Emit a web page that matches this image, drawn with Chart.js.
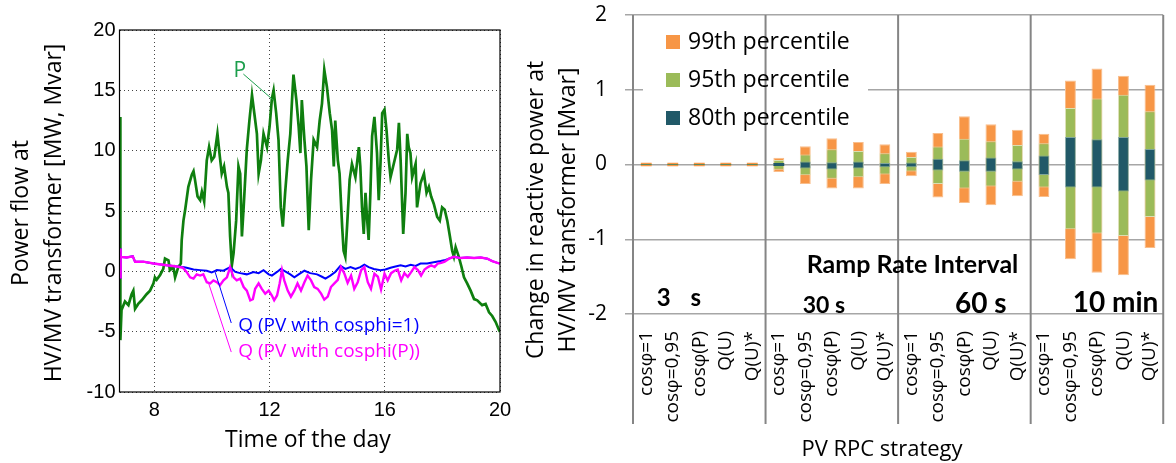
<!DOCTYPE html>
<html><head><meta charset="utf-8">
<script src="https://cdn.jsdelivr.net/npm/chart.js@4.4.1/dist/chart.umd.min.js"></script>
<style>
html,body{margin:0;padding:0;background:#fff;overflow:hidden;width:1176px;height:463px;position:relative;}
#l{position:absolute;left:0;top:0;width:520px;height:463px;}
#r{position:absolute;left:520px;top:0;width:670px;height:463px;}
canvas{display:block;}
</style></head><body>
<div id="l"><canvas id="c1" width="520" height="463"></canvas></div>
<div id="r"><canvas id="c2" width="670" height="463"></canvas></div>
<script>
// ---------- Left panel data: power flow over the day ----------
const pTime = [
 6.81,6.82,6.86,6.98,7.10,7.21,7.27,7.33,7.44,7.56,
 7.73,7.85,7.97,8.02,8.08,8.20,8.31,8.37,8.49,8.54,
 8.66,8.72,8.83,8.92,8.95,9.01,9.07,9.18,9.30,9.36,
 9.41,9.50,9.59,9.65,9.73,9.82,9.90,9.99,10.08,10.19,
 10.26,10.34,10.42,10.52,10.57,10.63,10.69,10.75,10.84,10.92,
 10.98,11.04,11.10,11.21,11.30,11.39,11.47,11.56,11.62,11.70,
 11.79,11.91,12.00,12.08,12.14,12.23,12.31,12.39,12.46,12.54,
 12.63,12.72,12.78,12.83,12.93,13.01,13.07,13.12,13.21,13.28,
 13.36,13.44,13.53,13.65,13.74,13.82,13.90,13.99,14.09,14.17,
 14.23,14.28,14.37,14.43,14.52,14.57,14.63,14.69,14.78,14.86,
 14.98,15.10,15.15,15.21,15.27,15.33,15.39,15.44,15.50,15.56,
 15.64,15.73,15.79,15.85,15.91,15.99,16.06,16.14,16.20,16.31,
 16.43,16.49,16.55,16.64,16.72,16.78,16.83,16.89,16.95,17.07,
 17.12,17.24,17.36,17.45,17.53,17.61,17.70,17.82,17.91,17.99,
 18.08,18.17,18.26,18.34,18.40,18.46,18.57,18.66,18.75,18.86,
 18.98,19.10,19.21,19.38,19.50,19.62,19.73,19.85,19.97,20.00];
const pValue = [
 12.8,-5.7,-3.2,-2.5,-2.8,-1.9,-1.6,-3.1,-2.7,-2.4,
 -1.9,-1.6,-1.0,-0.5,-0.7,-0.3,0.2,1.05,0.9,0.1,
 0.35,-0.5,0.35,0.65,2.6,4.2,5.1,7.0,8.0,8.3,
 7.6,6.2,5.9,6.6,5.8,9.2,10.3,9.2,9.5,11.4,
 9.8,8.1,8.7,7.0,6.5,2.9,0.5,1.5,4.2,8.7,
 8.1,2.9,5.3,10.1,12.5,14.6,13.1,11.4,8.1,9.2,
 11.4,10.3,12.0,14.3,15.0,13.1,10.9,5.3,3.7,6.5,
 9.2,11.4,14.2,16.3,14.2,12.0,9.8,14.2,10.9,8.7,
 3.4,7.6,10.9,10.3,12.5,13.9,16.7,15.3,13.1,11.7,
 8.7,12.5,9.2,8.1,3.7,1.7,1.2,3.7,7.6,8.9,
 7.8,10.3,8.7,5.3,3.1,6.5,4.2,2.6,6.5,11.2,
 12.8,9.8,5.9,8.9,13.1,13.4,11.7,9.2,7.8,8.9,
 10.1,12.3,9.2,3.1,6.5,11.4,10.3,9.8,7.8,8.9,
 5.3,7.3,8.1,6.5,7.0,6.2,5.6,4.5,4.2,5.3,
 5.1,4.2,2.9,1.7,1.2,2.0,1.2,0.4,-0.5,-1.0,
 -1.6,-2.3,-2.4,-2.8,-2.7,-3.4,-3.7,-4.2,-4.9,-5.0];

const qUnityTime = [
 6.81,6.82,6.84,7.04,7.25,7.33,7.62,7.97,8.43,8.78,
 8.99,9.12,9.36,9.59,9.82,9.99,10.17,10.40,10.63,10.81,
 10.98,11.21,11.44,11.62,11.79,11.97,12.08,12.26,12.39,12.54,
 12.72,12.86,13.01,13.21,13.41,13.65,13.82,13.94,14.11,14.28,
 14.46,14.63,14.81,14.98,15.15,15.29,15.44,15.62,15.85,16.02,
 16.20,16.37,16.55,16.72,16.90,17.07,17.24,17.47,17.70,17.94,
 18.11,18.23,18.40,18.63,18.86,19.10,19.33,19.56,19.73,19.91,20.00];
const qUnityValue = [
 1.9,-0.6,1.2,1.15,1.25,0.8,0.8,0.65,0.5,0.4,
 0.35,0.3,0.15,0.1,0.05,-0.1,0.1,0.05,0.35,-0.05,
 -0.15,-0.25,-0.05,-0.15,0.1,-0.25,-0.35,-0.05,0.2,0.0,
 -0.25,-0.5,-0.25,0.05,-0.15,-0.25,-0.45,-0.6,-0.35,-0.05,
 0.45,0.2,0.35,0.2,0.35,0.55,0.35,0.2,0.1,0.15,
 0.3,0.4,0.5,0.4,0.55,0.45,0.65,0.65,0.75,0.85,
 0.95,1.05,1.2,1.1,1.15,1.1,1.15,1.05,0.85,0.7,0.65];

const qCosPTime = [
 6.81,6.82,6.84,7.04,7.25,7.33,7.62,7.97,8.43,8.78,
 8.99,9.12,9.24,9.36,9.47,9.59,9.70,9.82,9.94,10.05,
 10.17,10.28,10.40,10.52,10.63,10.75,10.86,10.98,11.10,11.21,
 11.33,11.42,11.50,11.62,11.73,11.85,11.97,12.08,12.16,12.26,
 12.35,12.43,12.51,12.63,12.74,12.86,12.97,13.09,13.21,13.32,
 13.44,13.55,13.67,13.79,13.90,14.02,14.13,14.25,14.37,14.48,
 14.60,14.71,14.83,14.94,15.06,15.18,15.29,15.41,15.52,15.64,
 15.76,15.87,15.99,16.10,16.22,16.34,16.45,16.57,16.68,16.80,
 16.92,17.03,17.15,17.26,17.38,17.50,17.61,17.73,17.84,17.96,
 18.08,18.23,18.40,18.63,18.86,19.10,19.33,19.56,19.73,19.91,20.00];
const qCosPValue = [
 1.9,-0.6,1.2,1.15,1.25,0.8,0.8,0.65,0.5,0.4,
 0.3,-0.05,-0.5,-0.6,-0.25,-0.35,-0.25,-0.9,-1.0,-0.75,
 -0.9,-1.15,-0.75,-0.5,0.35,-0.5,-0.75,-0.6,-1.3,-1.6,
 -2.4,-2.3,-1.45,-1.0,-1.45,-1.85,-1.6,-2.0,-2.4,-2.0,
 -1.0,0.1,-0.75,-1.6,-2.1,-1.6,-1.0,-1.6,-0.9,-0.35,
 -0.75,-1.3,-1.45,-1.85,-2.35,-2.1,-1.3,-1.0,-0.7,0.35,
 -0.2,-0.95,-0.35,-1.45,-0.9,0.1,0.35,-0.9,-1.45,-0.2,
 -0.45,-1.5,-0.2,-0.75,-0.15,0.05,0.15,-0.75,-0.15,-0.45,
 -0.05,0.35,0.1,-0.35,0.15,0.35,0.5,0.35,0.65,0.7,
 0.8,1.05,1.2,1.1,1.15,1.1,1.15,1.05,0.85,0.7,0.65];

const timeTicks = [8, 12, 16, 20];
const powerTicks = [-10, -5, 0, 5, 10, 15, 20];

// ---------- Right panel data: change in reactive power ----------
const strategies = ['cosφ=1', 'cosφ=0,95', 'cosφ(P)', 'Q(U)', 'Q(U)*'];
const intervals = ['3 s', '30 s', '60 s', '10 min'];
const p99Low  = [-0.022,-0.022,-0.022,-0.022,-0.022, -0.10,-0.26,-0.32,-0.32,-0.26, -0.157,-0.44,-0.515,-0.545,-0.425, -0.436,-1.267,-1.449,-1.48,-1.116];
const p99High = [0.022,0.022,0.022,0.022,0.022, 0.09,0.245,0.35,0.30,0.27, 0.17,0.42,0.645,0.54,0.465, 0.413,1.124,1.284,1.187,1.067];
const p95Low  = [-0.006,-0.006,-0.006,-0.006,-0.006, -0.07,-0.143,-0.19,-0.17,-0.135, -0.094,-0.26,-0.32,-0.295,-0.23, -0.307,-0.867,-0.924,-0.956,-0.703];
const p95High = [0.006,0.006,0.006,0.006,0.006, 0.06,0.134,0.205,0.18,0.15, 0.10,0.24,0.345,0.31,0.26, 0.284,0.756,0.884,0.933,0.711];
const p80Low  = [-0.003,-0.003,-0.003,-0.003,-0.003, -0.02,-0.054,-0.067,-0.054,-0.036, -0.036,-0.08,-0.098,-0.098,-0.067, -0.142,-0.307,-0.307,-0.36,-0.213];
const p80High = [0.003,0.003,0.003,0.003,0.003, 0.02,0.04,0.03,0.04,0.02, 0.027,0.077,0.058,0.094,0.044, 0.12,0.369,0.337,0.369,0.209];
const changeTicks = [-2, -1, 0, 1, 2];

// ---------- helpers ----------
const toPts = (ts, vs) => ts.map((t, i) => ({x: t, y: vs[i]}));
const toRanges = (lo, hi) => lo.map((l, i) => [l, hi[i]]);
const categoryLabels = intervals.flatMap(() => strategies);

function rotText(ctx, txt, x, y, font, color, align) {
  ctx.save();
  ctx.translate(x, y);
  ctx.rotate(-Math.PI / 2);
  ctx.font = font; ctx.fillStyle = color;
  ctx.textAlign = align || 'center'; ctx.textBaseline = 'alphabetic';
  ctx.fillText(txt, 0, 0);
  ctx.restore();
}
function text(ctx, txt, x, y, font, color, align, base) {
  ctx.save();
  ctx.font = font; ctx.fillStyle = color;
  ctx.textAlign = align || 'left'; ctx.textBaseline = base || 'alphabetic';
  ctx.fillText(txt, x, y);
  ctx.restore();
}

const notes = [
  {text: 'P', color: '#1c9e4c', at: [10.75, 16.12], from: [11.09, 16.35], to: [12.13, 14.19], size: 21},
  {text: 'Q (PV with cosphi=1)', color: '#0000ff', at: [10.91, -4.95], from: [10.67, -4.28], to: [10.11, -0.06], size: 19},
  {text: 'Q (PV with cosphi(P))', color: '#ff00ff', at: [10.91, -7.10], from: [10.67, -6.69], to: [9.87, -0.89], size: 19}
];

const leftDecor = {
  id: 'leftDecor',
  afterDatasetsDraw(chart) {
    const {ctx, chartArea: a, scales: {x, y}} = chart;
    ctx.save();
    ctx.strokeStyle = '#000'; ctx.lineWidth = 1.2;
    ctx.strokeRect(a.left, a.top, a.right - a.left, a.bottom - a.top);
    notes.forEach(n => {
      ctx.strokeStyle = n.color; ctx.lineWidth = 1;
      ctx.beginPath();
      ctx.moveTo(x.getPixelForValue(n.from[0]), y.getPixelForValue(n.from[1]));
      ctx.lineTo(x.getPixelForValue(n.to[0]), y.getPixelForValue(n.to[1]));
      ctx.stroke();
      text(ctx, n.text, x.getPixelForValue(n.at[0]), y.getPixelForValue(n.at[1]), n.size + 'px "Open Sans"', n.color);
    });
    ctx.restore();
  },
  afterDraw(chart) {
    const ctx = chart.ctx;
    rotText(ctx, 'Power flow at', 28, 213, '23px "Open Sans"', '#000');
    rotText(ctx, 'HV/MV transformer [MW, Mvar]', 60.5, 213, '23px "Open Sans"', '#000');
    text(ctx, 'Time of the day', 308, 447, '23px "Open Sans"', '#000', 'center');
  }
};

new Chart(document.getElementById('c1'), {
  type: 'line',
  data: {datasets: [
    {label: 'Q (PV with cosphi(P))', data: toPts(qCosPTime, qCosPValue), borderColor: '#ff00ff', borderWidth: 2.4, pointRadius: 0, tension: 0},
    {label: 'Q (PV with cosphi=1)', data: toPts(qUnityTime, qUnityValue), borderColor: '#0000ff', borderWidth: 2, pointRadius: 0, tension: 0},
    {label: 'P', data: toPts(pTime, pValue), borderColor: '#0f7f0f', borderWidth: 2.7, pointRadius: 0, tension: 0}
  ]},
  options: {
    responsive: false, animation: false, devicePixelRatio: 1,
    layout: {padding: {top: 30, right: 20, left: 0, bottom: 0}},
    plugins: {legend: {display: false}, tooltip: {enabled: false}},
    scales: {
      x: {type: 'linear', min: 6.79, max: 20,
          afterBuildTicks(s) { s.ticks = timeTicks.map(v => ({value: v})); },
          afterFit(s) { s.height = 71; },
          ticks: {padding: 6, color: '#000', font: {family: 'Liberation Sans', size: 20}},
          grid: {color: '#444', lineWidth: 1, drawTicks: false},
          border: {display: false, dash: [1, 3]}},
      y: {min: -10, max: 20,
          afterBuildTicks(s) { s.ticks = powerTicks.map(v => ({value: v})); },
          afterFit(s) { s.width = 119.5; s.paddingTop = 10; s.paddingBottom = 10; },
          ticks: {padding: 4, color: '#000', font: {family: 'Liberation Sans', size: 20}},
          grid: {color: '#444', lineWidth: 1, drawTicks: false},
          border: {display: false, dash: [1, 3]}}
    }
  },
  plugins: [leftDecor]
});

// ---------- Right panel ----------
const legendItems = [
  {label: '99th percentile', color: '#F79646'},
  {label: '95th percentile', color: '#9BBB59'},
  {label: '80th percentile', color: '#215968'}
];
const rightDecor = {
  id: 'rightDecor',
  beforeDatasetsDraw(chart) {
    const {ctx, chartArea: a, scales: {x}} = chart;
    ctx.save();
    ctx.fillStyle = '#fff';
    ctx.fillRect(123, 24, 225, 110);
    const half = (x.getPixelForValue(1) - x.getPixelForValue(0)) / 2;
    ctx.strokeStyle = '#858585'; ctx.lineWidth = 2;
    for (let i = 0; i <= categoryLabels.length; i += strategies.length) {
      const px = i === 0 ? a.left : x.getPixelForValue(i - 1) + half;
      ctx.beginPath(); ctx.moveTo(px, a.top); ctx.lineTo(px, 424); ctx.stroke();
    }
    legendItems.forEach((it, k) => {
      const cy = 42 + k * 38;
      ctx.fillStyle = it.color;
      ctx.fillRect(146, cy - 7, 14, 14);
      text(ctx, it.label, 168, cy, '23px "Open Sans"', '#000', 'left', 'middle');
    });
    ctx.restore();
  },
  afterDraw(chart) {
    const ctx = chart.ctx;
    rotText(ctx, 'Change in reactive power at', 23, 210, '23px "Open Sans"', '#000');
    rotText(ctx, 'HV/MV transformer [Mvar]', 55, 210, '23px "Open Sans"', '#000');
    text(ctx, 'PV RPC strategy', 362, 456, '22px "Open Sans"', '#000', 'center');
    text(ctx, 'Ramp Rate Interval', 286.7, 273, 'bold 25px Lato', '#000');
    ctx.save(); ctx.wordSpacing = '14px';
    text(ctx, intervals[0], 136.7, 306, 'bold 24px Lato', '#000');
    ctx.restore();
    text(ctx, intervals[1], 282.7, 312.5, 'bold 23px Lato', '#000');
    text(ctx, intervals[2], 435, 313, 'bold 28px Lato', '#000');
    text(ctx, intervals[3], 552.7, 311.5, 'bold 28px Lato', '#000');
  }
};

// thin outline only on bars that are tall enough to show it
const outline = c => {
  const v = c.raw;
  return (v && Math.abs(v[1] - v[0]) > 0.05) ? 1 : 0;
};
const barCommon = {grouped: false, barPercentage: 0.41, categoryPercentage: 1, borderWidth: outline, borderSkipped: false};
new Chart(document.getElementById('c2'), {
  type: 'bar',
  data: {labels: categoryLabels, datasets: [
    Object.assign({label: '80th percentile', data: toRanges(p80Low, p80High), backgroundColor: '#215968', borderColor: 'rgba(120,160,170,0.8)'}, barCommon),
    Object.assign({label: '95th percentile', data: toRanges(p95Low, p95High), backgroundColor: '#9BBB59', borderColor: 'rgba(215,230,190,0.9)'}, barCommon),
    Object.assign({label: '99th percentile', data: toRanges(p99Low, p99High), backgroundColor: '#F79646', borderColor: 'rgba(249,190,140,1)'}, barCommon)
  ]},
  options: {
    responsive: false, animation: false, devicePixelRatio: 1,
    layout: {padding: {top: 15, right: 9, left: 0, bottom: 0}},
    plugins: {legend: {display: false}, tooltip: {enabled: false}},
    scales: {
      x: {afterFit(s) { s.height = 149; },
          ticks: {autoSkip: false, maxRotation: 90, minRotation: 90, padding: 17, color: '#000', font: {family: 'Open Sans', size: 19}},
          grid: {display: false, drawTicks: false},
          border: {display: false}},
      y: {min: -2, max: 2,
          afterBuildTicks(s) { s.ticks = changeTicks.map(v => ({value: v})); },
          afterFit(s) { s.width = 113; s.paddingTop = 10; s.paddingBottom = 10; },
          ticks: {padding: 18, color: '#000', font: {family: 'Open Sans', size: 21}},
          grid: {color: '#a6a6a6', lineWidth: 1.5, tickLength: 8},
          border: {display: false}}
    }
  },
  plugins: [rightDecor]
});
</script>
</body></html>
